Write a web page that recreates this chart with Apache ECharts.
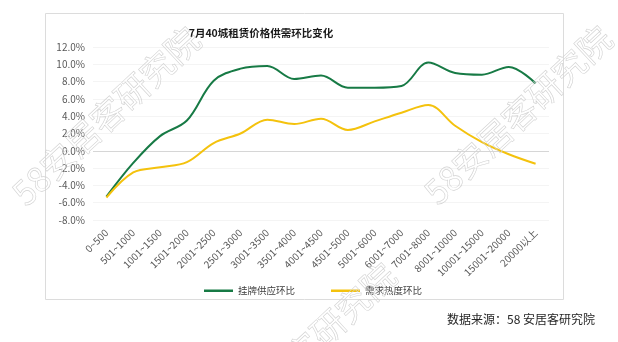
<!DOCTYPE html>
<html>
<head>
<meta charset="utf-8">
<script src="https://cdn.jsdelivr.net/npm/echarts@6/dist/echarts.min.js"></script>
<style>
  html, body { margin: 0; padding: 0; background: #fff; }
  #chart { width: 618px; height: 342px; }
</style>
</head>
<body>
<div id="chart"></div>
<script>
// Rent bands (yuan / month)
const categories = ['0~500', '501~1000', '1001~1500', '1501~2000', '2001~2500', '2501~3000',
  '3001~3500', '3501~4000', '4001~4500', '4501~5000', '5001~6000', '6001~7000',
  '7001~8000', '8001~10000', '10001~15000', '15001~20000', '20000以上'];

// Month-on-month change, %
const supplyMoM = [-5.3, -1.4, 1.7, 3.5, 8.1, 9.5, 9.8, 8.3, 8.7, 7.3, 7.3, 7.5, 10.2, 9.0, 8.8, 9.7, 7.8];
const demandMoM = [-5.4, -2.5, -1.9, -1.3, 0.9, 2.0, 3.6, 3.1, 3.7, 2.4, 3.4, 4.4, 5.3, 2.9, 1.0, -0.4, -1.5];

const seriesNames = ['挂牌供应环比', '需求热度环比'];
const yTicks = { min: -8, max: 12, step: 2 };

const font = '"Noto Sans CJK SC", "Noto Sans", sans-serif';
const chart = echarts.init(document.getElementById('chart'), null, { renderer: 'canvas' });

// grid line colours: the zero line is darker than the rest
const tickCount = (yTicks.max - yTicks.min) / yTicks.step + 1;
const splitColors = [];
for (let i = 0; i < tickCount; i++) {
  splitColors.push(yTicks.min + i * yTicks.step === 0 ? '#d6d6d6' : '#f4f4f4');
}

// hollow diagonal brand stamp
function watermark(cx, cy) {
  return {
    type: 'text',
    x: cx, y: cy,
    rotation: 43 * Math.PI / 180,
    z: 100,
    silent: true,
    style: {
      text: '58安居客研究院',
      font: '34px "Noto Sans CJK SC", sans-serif',
      fill: 'rgba(255,255,255,0)',
      stroke: '#d2d2d2',
      lineWidth: 0.6,
      align: 'center',
      verticalAlign: 'middle'
    }
  };
}

chart.setOption({
  backgroundColor: '#fff',
  animation: false,
  textStyle: { fontFamily: font },
  title: {
    text: '7月40城租赁价格供需环比变化',
    left: 256, top: 23, textAlign: 'center',
    textStyle: { fontSize: 10.5, fontWeight: 'bold', color: '#1a1a1a', fontFamily: font }
  },
  legend: {
    data: seriesNames,
    left: 199, top: 281,
    icon: 'rect',
    itemWidth: 29, itemHeight: 2.5,
    itemGap: 36,
    textStyle: { fontSize: 9.5, color: '#404040', fontFamily: font }
  },
  grid: { left: 93, right: 69, top: 47, bottom: 122, containLabel: false },
  xAxis: {
    type: 'category',
    data: categories,
    boundaryGap: true,
    axisLine: { show: false, onZero: false },
    axisTick: { show: false },
    axisLabel: { interval: 0, rotate: 45, fontSize: 10, color: '#595959', margin: 11, fontFamily: font }
  },
  yAxis: {
    type: 'value',
    min: yTicks.min, max: yTicks.max, interval: yTicks.step,
    axisLine: { show: false },
    axisTick: { show: false },
    axisLabel: {
      fontSize: 10, color: '#595959', margin: 8, fontFamily: font,
      formatter: v => v.toFixed(1) + '%'
    },
    splitLine: { show: true, lineStyle: { color: splitColors, width: 1 } }
  },
  series: [
    {
      name: seriesNames[0], type: 'line', data: supplyMoM,
      smooth: 0.35, symbol: 'none',
      lineStyle: { color: '#177a45', width: 2 },
      itemStyle: { color: '#177a45' }
    },
    {
      name: seriesNames[1], type: 'line', data: demandMoM,
      smooth: 0.35, symbol: 'none',
      lineStyle: { color: '#f4c20d', width: 2 },
      itemStyle: { color: '#f4c20d' }
    }
  ],
  graphic: [
    {
      type: 'rect', silent: true, z: -1,
      shape: { x: 45.5, y: 13.5, width: 518, height: 286 },
      style: { fill: 'none', stroke: '#dcdcdc', lineWidth: 1 }
    },
    {
      type: 'text', silent: true,
      x: 595, y: 319,
      style: {
        text: '数据来源：58 安居客研究院',
        font: '12px ' + font, fill: '#262626',
        align: 'right', verticalAlign: 'middle'
      }
    },
    watermark(106, 116),
    watermark(518, 115),
    watermark(302, 352)
  ]
});
</script>
</body>
</html>
